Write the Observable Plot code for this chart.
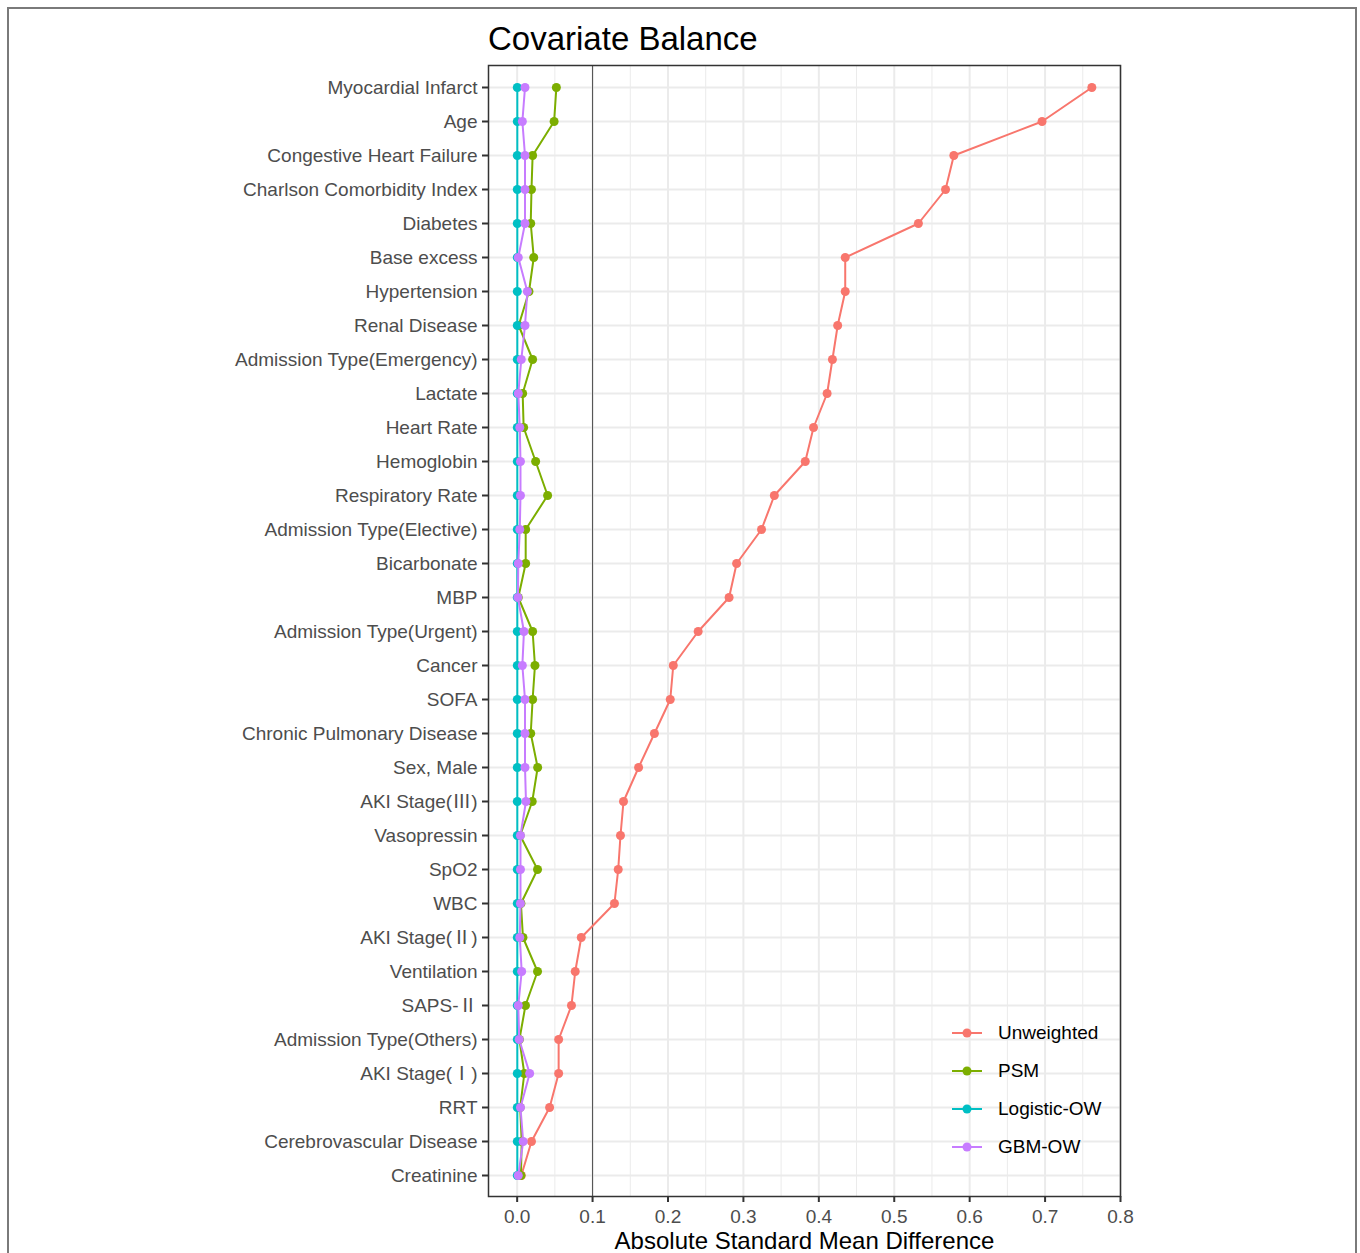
<!DOCTYPE html>
<html>
<head>
<meta charset="utf-8">
<script src="https://cdn.jsdelivr.net/npm/d3@7"></script>
<script src="https://cdn.jsdelivr.net/npm/@observablehq/plot@0.6"></script>
<style>
  html, body { margin: 0; padding: 0; background: #fff; overflow: hidden; }
  #wrap { position: relative; width: 1360px; height: 1253px; font-family: "Liberation Sans", Arial, sans-serif; }
  #border { position: absolute; left: 7px; top: 7px; width: 1350px; height: 1300px; border: 2px solid #7a7a7a; box-sizing: border-box; }
  #title { position: absolute; left: 488px; top: 22px; font-size: 33px; color: #000; line-height: 1; }
  #chart { position: absolute; left: 0; top: 0; }
  #legend { position: absolute; left: 950px; top: 1014px; font-size: 19px; color: #000; }
  #legend .item { height: 38px; display: flex; align-items: center; }
  #legend svg { margin-right: 14px; }
</style>
</head>
<body>
<div id="wrap">
  <div id="border"></div>
  <div id="chart"></div>
  <div id="title">Covariate Balance</div>
  <div id="legend"></div>
</div>
<script>
const categories = [
  "Myocardial Infarct", "Age", "Congestive Heart Failure", "Charlson Comorbidity Index",
  "Diabetes", "Base excess", "Hypertension", "Renal Disease", "Admission Type(Emergency)",
  "Lactate", "Heart Rate", "Hemoglobin", "Respiratory Rate", "Admission Type(Elective)",
  "Bicarbonate", "MBP", "Admission Type(Urgent)", "Cancer", "SOFA", "Chronic Pulmonary Disease",
  "Sex, Male", "AKI Stage(Ⅲ)", "Vasopressin", "SpO2", "WBC", "AKI Stage(Ⅱ)", "Ventilation",
  "SAPS-Ⅱ", "Admission Type(Others)", "AKI Stage(Ⅰ)", "RRT", "Cerebrovascular Disease", "Creatinine"
];
const methods = ["Unweighted", "PSM", "Logistic-OW", "GBM-OW"];
const methodColors = ["#F8766D", "#7CAE00", "#00BFC4", "#C77CFF"];

const unweighted = [0.762, 0.696, 0.579, 0.568, 0.532, 0.435, 0.435, 0.425, 0.418,
  0.411, 0.393, 0.382, 0.341, 0.324, 0.291, 0.281, 0.240, 0.207, 0.203, 0.182,
  0.161, 0.141, 0.137, 0.134, 0.129, 0.085, 0.077, 0.072, 0.055, 0.055, 0.043, 0.019, 0.0055];
const psm = [0.052, 0.049, 0.0205, 0.019, 0.018, 0.022, 0.0157, 0.002, 0.0205,
  0.0073, 0.0086, 0.0245, 0.0404, 0.0113, 0.0113, 0.0015, 0.0205, 0.0236, 0.0205, 0.018,
  0.0272, 0.020, 0.004, 0.027, 0.005, 0.0077, 0.027, 0.011, 0.003, 0.0095, 0.004, 0.006, 0.005];
const logisticOW = [0.0002, 0.0002, 0.0002, 0.0002, 0.0002, 0.0002, 0.0002, 0.0002, 0.0002,
  0.0002, 0.0002, 0.0002, 0.0002, 0.0002, 0.0002, 0.0002, 0.0002, 0.0002, 0.0002, 0.0002,
  0.0002, 0.0002, 0.0002, 0.0002, 0.0002, 0.0002, 0.0002, 0.0002, 0.0002, 0.0002, 0.0002, 0.0002, 0.0002];
const gbmOW = [0.0104, 0.0069, 0.0104, 0.0104, 0.0104, 0.0015, 0.0135, 0.0104, 0.0055,
  0.0015, 0.0035, 0.0044, 0.0044, 0.0035, 0.0015, 0.001, 0.009, 0.0069, 0.0104, 0.0104,
  0.0104, 0.0117, 0.0044, 0.0044, 0.0044, 0.0035, 0.006, 0.0015, 0.0027, 0.0166, 0.0044, 0.008, 0.0015];

const xTicks = [0, 0.1, 0.2, 0.3, 0.4, 0.5, 0.6, 0.7, 0.8];
const xMinorTicks = [0.05, 0.15, 0.25, 0.35, 0.45, 0.55, 0.65, 0.75];
const xDomain = [-0.038, 0.8];
const refLine = [0.1];
const xTitle = "Absolute Standard Mean Difference";

const seriesValues = [unweighted, psm, logisticOW, gbmOW];
const data = [];
methods.forEach((m, j) => {
  categories.forEach((c, i) => data.push({ cov: c, method: m, value: seriesValues[j][i] }));
});

const chart = Plot.plot({
  width: 1360,
  height: 1253,
  marginLeft: 488,
  marginRight: 240,
  marginTop: 65,
  marginBottom: 57,
  style: { fontFamily: "'Liberation Sans', Arial, sans-serif", background: "transparent" },
  x: { domain: xDomain, ticks: xTicks },
  y: { type: "point", domain: categories, padding: 0.6 },
  color: { domain: methods, range: methodColors },
  marks: [
    Plot.gridX(xMinorTicks, { stroke: "#ebebeb", strokeOpacity: 1, strokeWidth: 1 }),
    Plot.gridX(xTicks, { stroke: "#ebebeb", strokeOpacity: 1, strokeWidth: 2 }),
    Plot.gridY({ stroke: "#ebebeb", strokeOpacity: 1, strokeWidth: 2 }),
    Plot.ruleX(refLine, { stroke: "#4d4d4d", strokeWidth: 1 }),
    Plot.line(data, { x: "value", y: "cov", z: "method", stroke: "method", strokeWidth: 2 }),
    Plot.dot(data, { x: "value", y: "cov", fill: "method", r: 4.5 }),
    Plot.frame({ stroke: "#333333", strokeWidth: 1.5 }),
    Plot.axisY({ tickSize: 6, tickPadding: 5, fontSize: 19, stroke: "#333333", fill: "#4d4d4d", strokeWidth: 2, label: null }),
    Plot.axisX(xTicks, { tickSize: 6, tickPadding: 7, fontSize: 19, stroke: "#333333", fill: "#4d4d4d", strokeWidth: 2, label: null, tickFormat: d3.format(".1f") }),
    Plot.text([xTitle], { frameAnchor: "bottom", lineAnchor: "middle", dy: 45, fontSize: 24, fill: "#000" })
  ]
});
document.getElementById("chart").appendChild(chart);

// Render Roman numerals in a full-width CJK font, as in the reference
d3.select(chart).selectAll("text").each(function () {
  const t = this.textContent;
  if (/[\u2160-\u216B]/.test(t) && this.childElementCount === 0) {
    const parts = t.split(/([\u2160-\u216B])/);
    this.textContent = "";
    parts.forEach(p => {
      if (!p) return;
      const ts = document.createElementNS("http://www.w3.org/2000/svg", "tspan");
      ts.textContent = p;
      if (/[\u2160-\u216B]/.test(p)) ts.setAttribute("font-family", "'Noto Sans CJK SC', 'DejaVu Serif', serif");
      this.appendChild(ts);
    });
  }
});

const legend = document.getElementById("legend");
methods.forEach((m, j) => {
  const item = document.createElement("div");
  item.className = "item";
  item.innerHTML = `<svg width="34" height="12"><line x1="2" x2="32" y1="6" y2="6" stroke="${methodColors[j]}" stroke-width="2"/><circle cx="17" cy="6" r="4.5" fill="${methodColors[j]}"/></svg><span>${m}</span>`;
  legend.appendChild(item);
});
</script>
</body>
</html>
